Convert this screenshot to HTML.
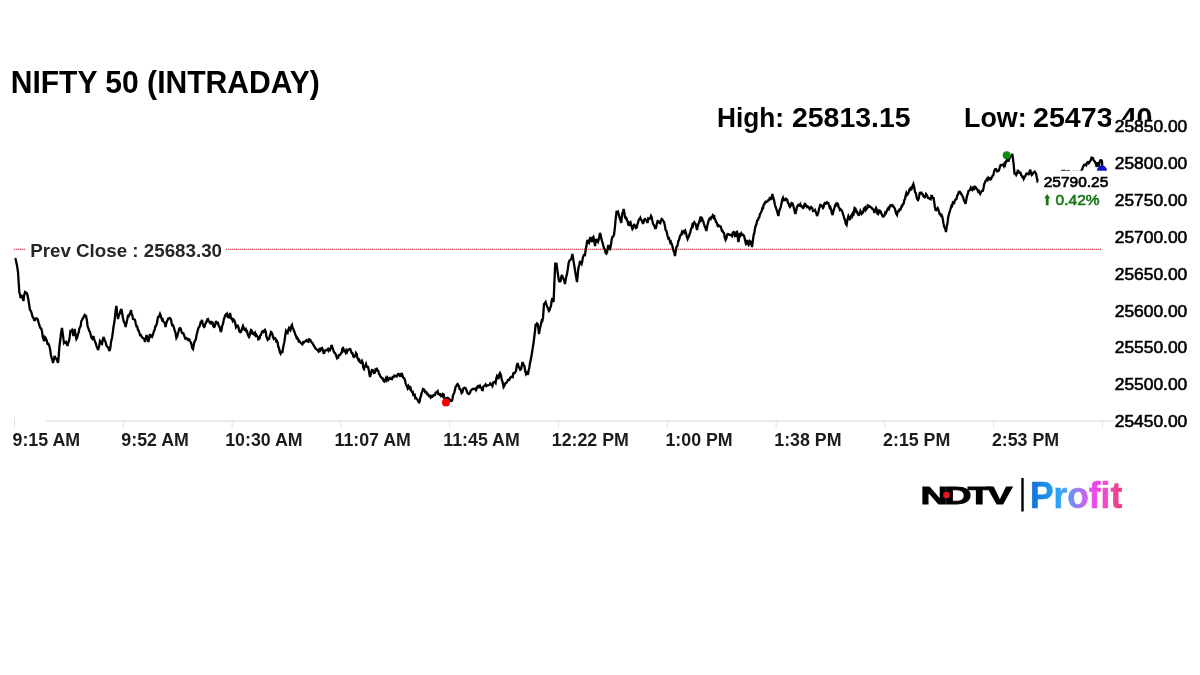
<!DOCTYPE html>
<html lang="en">
<head>
<meta charset="utf-8">
<title>NIFTY 50 (INTRADAY)</title>
<style>
html,body{margin:0;padding:0;background:#fff;}
body{width:1200px;height:675px;overflow:hidden;font-family:"Liberation Sans",sans-serif;}
svg{display:block;}
text{font-family:"Liberation Sans",sans-serif;}
.title{font-weight:bold;font-size:32px;fill:#000;}
.hl{font-weight:bold;font-size:27.3px;fill:#000;}
.xl text{font-weight:bold;font-size:17.8px;fill:#1c1c1c;text-anchor:middle;}
.yl text{font-size:17.4px;fill:#000;text-anchor:end;stroke:#000;stroke-width:0.6px;}
.axis line{stroke:#d8d8d8;stroke-width:1;}
.axis line.tk{stroke:#e2e2e2;}
.prev{font-weight:bold;font-size:18.75px;fill:#262626;}
.dl{font-size:15.5px;stroke-width:0.7px;}
.arrow{font-family:"DejaVu Sans","Liberation Sans",sans-serif;}
</style>
</head>
<body>
<svg width="1200" height="675" viewBox="0 0 1200 675">
<defs>
<linearGradient id="pg" x1="0" y1="0" x2="1" y2="0">
<stop offset="0" stop-color="#0f6fd6"/>
<stop offset="0.30" stop-color="#28a6f8"/>
<stop offset="0.44" stop-color="#6a92f2"/>
<stop offset="0.58" stop-color="#c068f0"/>
<stop offset="0.70" stop-color="#f048e8"/>
<stop offset="0.86" stop-color="#f04cc0"/>
<stop offset="1" stop-color="#f03870"/>
</linearGradient>
</defs>
<rect width="1200" height="675" fill="#fff"/>
<text class="title" x="10.7" y="92.6" textLength="309" lengthAdjust="spacingAndGlyphs">NIFTY 50 (INTRADAY)</text>
<text class="hl" x="717" y="126.8" textLength="67" lengthAdjust="spacingAndGlyphs">High:</text>
<text class="hl" x="792" y="126.8" textLength="118.5" lengthAdjust="spacingAndGlyphs">25813.15</text>
<text class="hl" x="964" y="126.8" textLength="62.7" lengthAdjust="spacingAndGlyphs">Low:</text>
<text class="hl" x="1033" y="126.8" textLength="119.5" lengthAdjust="spacingAndGlyphs">25473.40</text>
<g class="axis"><line x1="46" y1="421" x2="1115" y2="421"/><line x1="14.5" y1="417.5" x2="14.5" y2="428.5" class="tk"/><line x1="123.3" y1="421" x2="123.3" y2="428.5" class="tk"/><line x1="232.1" y1="421" x2="232.1" y2="428.5" class="tk"/><line x1="340.9" y1="421" x2="340.9" y2="428.5" class="tk"/><line x1="449.7" y1="421" x2="449.7" y2="428.5" class="tk"/><line x1="558.5" y1="421" x2="558.5" y2="428.5" class="tk"/><line x1="667.3" y1="421" x2="667.3" y2="428.5" class="tk"/><line x1="776.1" y1="421" x2="776.1" y2="428.5" class="tk"/><line x1="884.9" y1="421" x2="884.9" y2="428.5" class="tk"/><line x1="993.7" y1="421" x2="993.7" y2="428.5" class="tk"/><line x1="1102.5" y1="421" x2="1102.5" y2="428.5" class="tk"/></g>
<g class="xl"><text x="46.3" y="446">9:15 AM</text><text x="155.1" y="446">9:52 AM</text><text x="263.9" y="446">10:30 AM</text><text x="372.7" y="446">11:07 AM</text><text x="481.5" y="446">11:45 AM</text><text x="590.3" y="446">12:22 PM</text><text x="699.1" y="446">1:00 PM</text><text x="807.9" y="446">1:38 PM</text><text x="916.7" y="446">2:15 PM</text><text x="1025.5" y="446">2:53 PM</text></g>
<line x1="14" y1="249.4" x2="1102" y2="249.4" stroke="#ecc0c8" stroke-width="1"/><line x1="14" y1="249.3" x2="1102" y2="249.3" stroke="#cc2a46" stroke-width="1.1" stroke-dasharray="1 1"/>
<rect x="25" y="240" width="201" height="20" fill="#fff"/>
<text class="prev" x="30.2" y="256.8">Prev Close : 25683.30</text>
<polyline fill="none" stroke="#000" stroke-width="2.3" stroke-linejoin="miter" stroke-miterlimit="3" stroke-linecap="round" points="15.6,259.0 16.4,262.8 17.2,266.6 18.0,272.0 18.7,283.0 19.4,293.0 20.0,294.2 20.6,298.0 21.3,296.6 22.0,295.0 22.7,297.6 23.4,301.0 24.2,295.2 25.0,292.0 25.8,292.5 26.6,293.0 27.5,295.1 28.4,300.0 29.2,304.8 30.0,310.0 30.9,311.0 31.7,313.4 32.6,317.0 33.4,317.8 34.2,320.0 35.0,320.0 35.9,318.5 36.7,318.5 37.6,319.0 38.5,322.4 39.4,325.0 40.1,327.7 40.7,327.9 41.4,329.0 42.1,332.0 42.7,337.1 43.4,339.0 44.1,337.3 44.9,339.4 45.6,338.0 46.3,339.4 46.9,340.9 47.6,344.0 48.5,343.9 49.4,346.0 50.1,349.4 50.9,354.9 51.6,358.0 52.3,359.5 53.0,363.0 53.8,359.7 54.6,356.0 55.5,357.9 56.4,359.0 57.2,360.6 58.0,363.0 58.7,356.1 59.3,347.7 60.0,342.0 60.7,336.0 61.3,331.8 62.0,328.0 62.7,333.5 63.3,337.8 64.0,343.0 64.7,342.1 65.3,342.6 66.0,342.0 66.7,343.9 67.4,346.0 68.2,342.9 69.0,341.0 69.7,336.9 70.4,331.0 71.2,331.1 72.0,330.0 72.7,332.2 73.4,336.0 74.0,332.7 74.6,329.0 75.5,334.1 76.4,339.0 77.2,337.6 78.0,334.0 78.7,332.4 79.3,328.7 80.0,327.0 80.7,326.1 81.3,321.2 82.0,320.0 82.7,318.4 83.3,318.1 84.0,316.0 84.7,315.0 85.3,316.0 86.0,316.0 86.8,319.6 87.6,326.0 88.4,328.5 89.2,330.8 90.0,332.0 90.8,335.2 91.6,338.0 92.3,338.8 92.9,336.8 93.6,337.0 94.3,339.6 94.9,341.3 95.6,343.0 96.4,345.6 97.2,347.5 98.0,350.0 98.7,348.0 99.3,345.3 100.0,341.0 100.7,341.9 101.3,343.5 102.0,344.0 102.8,339.2 103.6,337.0 104.3,339.3 104.9,340.8 105.6,342.0 106.3,345.1 106.9,346.3 107.6,347.0 108.3,347.7 108.9,349.3 109.6,351.0 110.4,347.2 111.2,340.9 112.0,338.0 112.8,332.6 113.6,326.3 114.4,322.0 115.1,315.5 115.7,310.0 116.4,306.0 117.2,313.3 118.0,319.0 118.8,315.4 119.6,314.0 120.5,310.7 121.4,309.0 122.2,313.2 123.0,318.0 123.9,322.1 124.7,322.7 125.6,327.0 126.4,323.2 127.2,319.8 128.0,316.0 128.8,316.2 129.6,314.0 130.3,313.0 131.0,310.0 131.7,314.1 132.3,315.3 133.0,319.0 133.7,319.1 134.3,319.2 135.0,320.0 135.8,323.7 136.5,326.4 137.2,326.5 138.0,330.0 138.7,330.7 139.3,332.5 140.0,335.0 140.8,335.0 141.5,336.5 142.2,337.5 143.0,338.0 143.7,338.6 144.3,339.2 145.0,342.0 145.8,338.3 146.6,335.0 147.5,338.1 148.4,342.0 149.2,338.2 150.0,334.0 150.7,336.4 151.3,336.6 152.0,337.0 152.7,335.0 153.3,333.4 154.0,331.0 154.7,329.9 155.3,326.3 156.0,326.0 156.7,324.2 157.3,320.8 158.0,317.0 158.7,317.1 159.3,315.9 160.0,314.0 160.7,315.7 161.3,317.7 162.0,320.0 162.7,319.5 163.3,321.7 164.0,322.0 164.8,323.2 165.6,327.0 166.3,323.4 166.9,321.5 167.6,320.0 168.4,318.3 169.2,318.2 170.0,318.0 170.7,319.0 171.3,321.2 172.0,325.0 172.7,325.0 173.3,325.8 174.0,328.0 174.8,330.9 175.6,333.2 176.4,338.0 177.1,336.8 177.9,333.7 178.6,331.0 179.3,328.4 180.0,328.0 180.7,328.9 181.3,330.9 182.0,333.0 182.7,333.3 183.3,333.2 184.0,335.0 184.7,337.0 185.3,338.5 186.0,338.0 186.7,338.6 187.3,339.3 188.0,340.0 188.7,339.1 189.3,339.5 190.0,341.0 190.8,342.5 191.5,344.3 192.2,348.0 193.0,349.0 193.7,345.3 194.3,342.2 195.0,341.0 195.9,339.0 196.7,334.4 197.6,331.0 198.4,327.9 199.2,327.1 200.0,325.0 200.7,321.9 201.3,321.8 202.0,320.0 202.7,323.8 203.3,325.8 204.0,327.0 204.7,326.3 205.3,323.6 206.0,323.0 206.7,321.3 207.3,319.3 208.0,319.0 208.7,321.1 209.3,321.8 210.0,323.0 210.7,323.5 211.3,321.8 212.0,322.0 212.7,322.8 213.3,326.3 214.0,327.0 214.7,326.5 215.3,324.1 216.0,321.0 216.7,322.6 217.3,323.3 218.0,323.0 218.8,326.0 219.5,326.7 220.2,329.8 221.0,332.0 221.7,328.9 222.3,325.3 223.0,324.0 223.7,319.9 224.3,318.0 225.0,316.0 225.7,314.6 226.3,315.2 227.0,314.0 227.7,316.7 228.3,316.5 229.0,318.0 230.0,313.0 230.7,316.3 231.3,318.5 232.0,319.0 232.7,320.7 233.3,319.3 234.0,320.0 234.7,321.5 235.3,323.8 236.0,327.0 236.7,325.8 237.3,325.4 238.0,326.0 238.7,328.4 239.3,331.2 240.0,332.0 240.8,332.0 241.6,330.0 242.3,327.9 243.0,326.0 243.7,327.8 244.3,329.6 245.0,330.0 245.7,329.1 246.3,331.1 247.0,331.0 247.7,334.2 248.3,335.8 249.0,337.0 249.7,335.4 250.3,332.3 251.0,330.0 251.7,330.4 252.3,333.5 253.0,334.0 253.7,333.2 254.3,334.2 255.0,333.0 255.7,335.4 256.3,334.7 257.0,336.0 257.7,336.7 258.3,339.3 259.0,339.0 259.7,338.3 260.3,335.3 261.0,335.0 261.7,332.5 262.3,331.3 263.0,331.0 263.7,331.9 264.3,331.3 265.0,330.0 265.7,331.6 266.3,336.3 267.0,338.0 267.7,339.8 268.3,339.1 269.0,339.0 269.7,336.2 270.3,334.5 271.0,332.0 271.7,332.6 272.3,333.9 273.0,337.0 273.7,338.7 274.3,338.1 275.0,338.0 275.7,339.1 276.3,341.3 277.0,341.0 277.7,343.1 278.3,346.8 279.0,348.0 279.8,351.8 280.6,353.6 281.5,351.9 282.4,352.0 283.1,347.9 283.7,344.7 284.4,342.0 285.2,335.7 286.0,331.0 286.8,332.3 287.6,333.0 288.3,329.8 289.0,328.0 289.7,328.8 290.4,330.0 291.2,326.4 292.0,325.0 292.7,328.2 293.3,328.6 294.0,331.0 294.7,332.5 295.3,334.6 296.0,336.0 296.7,338.2 297.3,337.8 298.0,339.0 298.7,341.3 299.3,341.0 300.0,342.0 300.8,342.9 301.6,343.7 302.4,344.4 303.3,342.0 304.1,342.4 305.0,341.6 305.9,340.6 306.7,340.1 307.6,341.6 308.4,341.8 309.2,339.3 310.0,339.6 310.8,340.7 311.6,342.5 312.4,343.0 313.3,344.8 314.1,345.8 315.0,348.0 315.9,348.7 316.7,349.5 317.6,350.0 318.4,351.2 319.2,349.5 320.0,351.0 320.7,350.2 321.3,348.2 322.0,348.0 322.8,349.8 323.6,353.0 324.3,352.8 324.9,351.0 325.6,350.0 326.4,349.9 327.2,350.1 328.0,349.0 328.7,350.6 329.3,349.5 330.0,350.0 330.8,347.8 331.6,345.0 332.3,347.0 332.9,349.0 333.6,351.0 334.3,352.6 334.9,352.9 335.6,354.0 336.3,356.1 337.0,358.0 337.7,356.9 338.3,357.3 339.0,355.0 339.7,354.9 340.3,354.8 341.0,353.0 341.7,352.7 342.3,348.9 343.0,348.0 343.7,349.2 344.3,351.3 345.0,351.0 345.7,352.4 346.3,350.6 347.0,352.0 347.9,349.9 348.7,349.8 349.6,349.0 350.3,349.1 350.9,350.9 351.6,353.0 352.4,353.1 353.2,356.2 354.0,357.0 354.7,356.5 355.3,355.5 356.0,353.0 356.7,354.0 357.3,357.6 358.0,359.0 358.7,360.5 359.3,359.9 360.0,362.0 360.7,362.8 361.3,362.7 362.0,361.0 362.7,362.8 363.3,367.7 364.0,369.0 364.7,367.0 365.3,365.6 366.0,364.0 366.7,366.5 367.3,367.0 368.0,367.0 368.7,369.3 369.3,373.5 370.0,377.0 370.7,374.7 371.3,371.9 372.0,370.0 372.7,370.1 373.3,371.5 374.0,373.0 374.8,372.7 375.5,369.6 376.2,370.2 377.0,369.0 377.7,370.5 378.3,370.9 379.0,374.0 379.7,374.5 380.3,376.4 381.0,377.0 381.9,378.4 382.7,378.4 383.6,381.0 384.4,381.5 385.2,379.9 386.0,378.0 386.8,380.1 387.6,378.1 388.4,380.0 389.3,379.0 390.1,378.0 391.0,379.0 391.9,379.2 392.7,377.0 393.6,377.0 394.4,375.6 395.2,376.1 396.0,376.0 396.7,376.6 397.3,375.6 398.0,374.0 398.7,373.9 399.3,374.3 400.0,376.0 400.8,375.8 401.6,373.0 402.3,374.9 402.9,376.9 403.6,378.0 404.3,378.4 404.9,380.0 405.6,383.0 406.3,385.2 406.9,386.1 407.6,388.0 408.4,386.1 409.2,388.0 410.0,386.0 410.7,388.4 411.3,390.9 412.0,392.0 412.7,391.8 413.3,395.1 414.0,395.0 414.7,394.7 415.3,398.1 416.0,398.0 416.8,399.0 417.5,399.7 418.2,401.5 419.0,402.4 419.7,401.5 420.3,397.4 421.0,396.0 421.7,392.6 422.3,391.4 423.0,389.0 423.7,389.2 424.3,389.8 425.0,392.0 425.7,391.7 426.3,392.0 427.0,394.0 427.7,393.8 428.3,394.8 429.0,396.0 429.8,395.7 430.5,397.3 431.2,396.1 432.0,397.0 432.8,396.5 433.5,395.0 434.2,395.0 435.0,395.0 435.7,392.6 436.3,392.3 437.0,392.0 437.7,391.2 438.3,394.0 439.0,394.0 439.7,394.8 440.3,394.4 441.0,396.0 441.7,395.3 442.3,396.0 443.0,394.0 443.7,394.5 444.3,398.3 445.0,399.0 445.7,398.5 446.3,398.3 447.0,398.0 447.7,399.3 448.3,398.3 449.0,399.0 449.9,399.7 450.7,400.9 451.6,401.0 452.3,400.1 452.9,395.9 453.6,394.0 454.3,392.7 454.9,390.0 455.6,387.0 456.3,386.4 456.9,384.7 457.6,384.0 458.3,385.2 458.9,386.0 459.6,389.0 460.3,389.2 460.9,390.4 461.6,393.0 462.4,392.1 463.2,388.9 464.0,388.0 464.8,387.7 465.6,388.1 466.4,390.0 467.3,392.4 468.1,393.8 469.0,394.0 469.9,393.2 470.7,390.7 471.6,390.0 472.4,388.9 473.2,388.7 474.0,389.0 474.7,389.2 475.3,388.6 476.0,390.0 476.7,388.5 477.3,386.6 478.0,386.0 478.7,387.4 479.3,387.4 480.0,386.0 480.7,387.5 481.3,387.9 482.0,390.0 482.7,390.1 483.3,386.8 484.0,386.0 484.8,385.6 485.6,384.5 486.4,386.0 487.3,385.3 488.1,385.3 489.0,385.0 489.7,384.7 490.3,383.4 491.0,384.0 491.7,385.0 492.4,386.0 493.2,382.5 494.0,382.0 494.8,381.8 495.6,383.0 496.3,378.3 497.0,376.0 497.7,377.2 498.4,379.0 499.2,374.6 500.0,373.0 500.8,374.6 501.6,379.0 502.3,381.1 502.9,383.5 503.6,387.0 504.3,385.9 504.9,384.4 505.6,383.0 506.4,382.8 507.2,381.5 508.0,380.0 508.7,380.0 509.3,379.8 510.0,378.0 510.7,377.3 511.3,376.8 512.0,377.0 512.7,377.1 513.3,373.3 514.0,373.0 514.7,373.0 515.3,372.1 516.0,371.0 516.8,365.6 517.6,363.0 518.5,366.5 519.4,368.0 520.2,369.7 521.0,369.0 521.8,365.9 522.6,362.0 523.5,364.7 524.4,366.0 525.2,370.9 526.0,374.0 526.7,372.9 527.3,374.1 528.0,374.0 528.7,370.3 529.3,367.7 530.0,363.0 530.8,359.6 531.6,355.3 532.4,350.0 533.1,345.6 533.7,341.8 534.4,336.0 535.0,331.0 535.6,325.0 536.3,325.2 536.9,323.5 537.6,324.0 538.3,327.6 539.0,334.0 539.7,329.6 540.3,326.9 541.0,324.0 541.7,320.8 542.3,321.0 543.0,318.0 544.0,304.0 544.8,303.2 545.6,302.0 546.5,304.9 547.4,307.0 548.2,309.4 549.0,311.0 549.7,309.9 550.3,307.6 551.0,306.0 551.7,300.5 552.4,298.0 553.0,300.9 553.6,302.0 554.4,282.0 555.2,264.0 555.8,264.2 556.4,263.0 557.0,267.5 557.6,272.0 558.3,276.6 559.0,281.0 559.8,281.5 560.6,281.0 561.3,276.7 562.0,275.0 562.8,277.7 563.6,279.0 564.3,280.8 565.0,284.0 565.7,279.4 566.3,276.6 567.0,274.0 567.8,269.2 568.6,263.0 569.5,260.6 570.4,260.0 571.1,258.7 571.7,257.4 572.4,254.0 573.2,259.0 574.0,264.0 574.8,268.6 575.6,274.0 576.3,277.9 577.0,282.0 577.7,275.6 578.4,268.0 579.2,265.3 580.0,261.0 580.8,262.9 581.6,264.0 582.3,260.9 583.0,257.0 583.7,255.1 584.3,254.6 585.0,255.0 585.7,249.8 586.4,246.0 587.4,240.0 588.2,242.2 589.0,243.0 589.7,239.4 590.4,237.0 591.2,239.7 592.0,242.0 592.7,238.0 593.4,237.0 594.2,240.2 595.0,246.0 595.7,241.8 596.4,239.0 597.2,241.0 598.0,242.0 598.7,239.6 599.3,236.5 600.0,233.0 600.7,235.0 601.3,238.4 602.0,241.0 602.7,243.2 603.3,245.6 604.0,248.0 604.8,249.4 605.6,253.0 606.4,253.7 607.2,252.0 607.8,247.6 608.4,245.0 609.2,248.4 610.0,249.0 610.8,245.8 611.6,240.0 612.4,236.9 613.2,236.5 614.0,235.0 614.8,228.5 615.6,220.0 616.6,211.0 617.3,212.9 618.0,212.0 618.8,214.8 619.6,218.0 620.4,219.8 621.2,223.0 621.8,217.1 622.4,213.0 623.0,212.3 623.6,209.0 624.3,212.1 625.0,217.0 625.7,218.2 626.3,217.9 627.0,220.0 627.7,221.7 628.3,224.7 629.0,225.0 629.7,222.4 630.4,222.0 631.1,225.3 631.7,226.7 632.4,229.0 633.2,227.7 634.0,224.0 634.7,225.9 635.3,225.9 636.0,228.0 636.7,227.5 637.3,224.6 638.0,223.0 638.8,219.6 639.6,219.0 640.3,217.8 640.9,219.6 641.6,220.0 642.3,221.9 643.0,224.0 643.7,221.7 644.3,219.6 645.0,219.0 645.7,219.5 646.3,220.4 647.0,222.0 647.7,222.0 648.3,218.5 649.0,219.0 649.7,218.8 650.3,218.0 651.0,216.0 651.7,217.4 652.4,221.0 653.1,223.9 653.7,225.0 654.4,226.0 655.2,228.2 656.0,228.0 656.8,223.9 657.6,221.0 658.3,221.3 658.9,222.0 659.6,223.0 660.3,223.2 660.9,220.6 661.6,219.0 662.4,219.6 663.2,220.8 664.0,222.0 664.8,225.3 665.6,230.0 666.3,230.6 666.9,232.8 667.6,236.0 668.3,238.3 668.9,238.0 669.6,240.0 670.3,242.6 670.9,241.9 671.6,244.0 672.3,245.6 672.9,248.7 673.6,251.0 674.3,252.6 675.0,256.0 675.7,251.1 676.4,247.0 677.1,246.4 677.7,244.2 678.4,241.0 679.2,239.4 680.0,236.0 680.7,235.1 681.3,234.6 682.0,232.0 682.7,233.0 683.3,231.5 684.0,231.0 684.7,232.3 685.3,231.0 686.0,233.0 686.8,236.7 687.6,239.0 688.3,237.2 688.9,236.4 689.6,234.0 690.3,232.4 690.9,229.4 691.6,228.0 692.3,225.0 692.9,225.9 693.6,223.0 694.3,222.2 694.9,223.6 695.6,224.0 696.3,226.5 697.0,230.0 697.7,226.4 698.4,224.0 699.2,222.2 700.0,219.0 700.7,220.1 701.3,217.6 702.0,218.0 702.7,220.5 703.3,221.4 704.0,224.0 704.8,226.5 705.6,228.3 706.4,231.0 707.2,226.0 708.0,223.0 708.7,220.3 709.3,218.8 710.0,218.0 710.7,218.9 711.3,217.3 712.0,217.0 712.7,215.5 713.3,216.9 714.0,215.0 714.7,218.8 715.3,219.5 716.0,222.0 716.7,222.6 717.3,224.4 718.0,227.0 718.7,225.4 719.3,225.9 720.0,226.0 720.7,226.4 721.3,228.6 722.0,231.0 722.7,230.9 723.3,232.5 724.0,233.0 724.8,237.7 725.6,240.0 726.3,238.7 726.9,235.7 727.6,234.0 728.4,234.1 729.2,234.7 730.0,235.0 730.7,235.0 731.3,235.2 732.0,236.0 732.8,232.7 733.6,232.0 734.3,232.7 734.9,236.1 735.6,236.0 736.3,232.4 737.0,231.0 737.7,236.5 738.4,242.0 739.2,237.9 740.0,233.0 740.7,234.8 741.3,233.5 742.0,235.0 742.7,234.6 743.3,234.9 744.0,236.0 744.7,238.4 745.3,241.2 746.0,244.0 746.7,243.4 747.4,240.0 748.0,243.5 748.6,245.0 749.3,244.1 750.0,241.0 750.7,241.6 751.3,243.6 752.0,247.0 752.8,241.6 753.6,235.0 754.3,233.2 754.9,228.9 755.6,226.0 756.4,224.3 757.2,220.5 758.0,220.0 758.7,217.7 759.3,217.3 760.0,214.0 760.8,213.0 761.6,211.1 762.4,208.0 763.1,208.1 763.7,204.6 764.4,204.0 765.1,202.2 765.7,201.6 766.4,202.0 767.1,201.4 767.7,201.2 768.4,200.0 769.2,199.8 770.0,197.0 771.0,200.0 771.7,197.7 772.4,194.0 773.2,197.4 774.0,200.0 774.8,204.3 775.6,207.0 776.3,208.9 777.0,211.0 777.7,213.7 778.4,216.0 779.2,211.1 780.0,209.0 780.8,206.8 781.6,203.0 782.3,199.7 783.0,198.0 783.7,200.3 784.4,200.0 785.1,200.1 785.7,198.7 786.4,199.0 787.2,199.9 788.0,203.0 788.7,203.6 789.3,206.1 790.0,207.0 790.8,205.6 791.6,203.0 792.3,203.2 792.9,204.4 793.6,207.0 794.5,210.6 795.4,214.0 796.2,210.7 797.0,207.0 797.7,206.0 798.3,204.8 799.0,205.0 799.7,205.6 800.3,204.2 801.0,206.0 801.7,206.1 802.3,207.2 803.0,208.0 803.7,207.7 804.3,205.1 805.0,203.0 805.7,205.5 806.3,205.6 807.0,207.0 807.7,206.5 808.3,206.9 809.0,208.0 809.7,209.0 810.3,207.9 811.0,207.0 811.7,207.8 812.3,208.2 813.0,211.0 813.7,210.7 814.3,210.9 815.0,210.0 815.7,211.8 816.3,213.3 817.0,216.0 817.7,214.2 818.3,212.6 819.0,209.0 819.7,206.8 820.3,204.9 821.0,205.0 821.7,205.5 822.3,206.8 823.0,208.0 823.7,206.9 824.3,203.8 825.0,203.0 825.7,203.7 826.3,203.3 827.0,202.4 827.7,203.3 828.3,203.2 829.0,205.0 829.7,207.7 830.3,207.1 831.0,209.0 831.8,213.0 832.6,215.0 833.5,210.7 834.4,208.0 835.2,205.2 836.0,204.0 836.7,204.8 837.3,203.4 838.0,204.0 838.7,207.4 839.3,208.0 840.0,210.0 840.7,209.4 841.3,209.8 842.0,211.0 842.8,213.3 843.6,216.0 844.3,218.5 845.0,220.0 845.8,223.8 846.6,225.0 847.5,219.4 848.4,216.0 849.2,217.7 850.0,220.0 850.8,216.6 851.6,215.0 852.3,216.1 852.9,213.3 853.6,214.0 854.6,208.0 855.5,208.7 856.4,212.0 857.1,211.7 857.7,213.7 858.4,215.0 859.1,214.9 859.7,213.5 860.4,211.0 861.1,212.4 861.7,213.8 862.4,213.0 863.1,212.6 863.7,209.2 864.4,208.0 865.1,207.4 865.7,210.0 866.4,209.0 867.1,208.6 867.7,205.3 868.4,205.6 869.1,206.6 869.7,206.2 870.4,207.0 871.1,207.3 871.7,207.8 872.4,209.0 873.1,209.3 873.7,210.2 874.4,213.0 875.2,209.8 876.0,208.0 876.7,209.6 877.3,213.4 878.0,214.0 878.7,211.9 879.3,213.4 880.0,211.0 880.7,211.5 881.3,213.2 882.0,215.0 882.7,216.3 883.3,216.6 884.0,216.0 884.7,214.8 885.3,212.6 886.0,213.0 886.8,210.9 887.6,209.0 888.3,208.0 888.9,208.9 889.6,207.0 890.3,205.4 890.9,205.3 891.6,205.0 892.3,206.9 892.9,204.9 893.6,207.0 894.3,207.7 895.0,209.0 895.7,211.9 896.3,213.8 897.0,215.0 897.7,212.3 898.3,210.9 899.0,211.0 899.7,208.7 900.3,210.3 901.0,208.0 901.7,205.9 902.3,206.1 903.0,204.0 903.7,203.5 904.3,200.2 905.0,199.0 905.7,195.3 906.4,193.0 907.2,194.9 908.0,194.0 908.8,191.9 909.6,189.0 910.3,188.3 910.9,189.6 911.6,189.0 912.5,185.9 913.4,184.0 914.2,187.3 915.0,192.0 915.8,193.0 916.6,197.0 917.3,199.3 918.0,200.0 918.7,198.6 919.3,195.1 920.0,192.0 920.7,194.0 921.3,191.9 922.0,194.0 922.7,194.2 923.3,195.9 924.0,197.0 924.7,197.4 925.3,196.4 926.0,194.0 926.7,195.0 927.3,195.9 928.0,198.0 928.7,198.1 929.3,198.6 930.0,199.0 930.7,199.3 931.3,196.0 932.0,196.0 932.8,197.9 933.6,198.0 934.3,202.7 934.9,207.0 935.6,210.0 936.3,210.2 936.9,209.0 937.6,208.0 938.3,209.5 938.9,211.5 939.6,214.0 940.3,213.9 940.9,215.5 941.6,215.0 942.3,216.7 942.9,220.1 943.6,224.0 944.4,227.4 945.2,228.6 946.0,232.0 946.8,226.2 947.5,223.0 948.2,217.1 949.0,214.0 949.9,211.2 950.8,208.0 951.5,205.7 952.1,206.0 952.8,202.8 953.4,203.4 954.1,203.2 954.7,201.2 955.6,199.4 956.5,199.0 957.2,195.5 958.0,194.5 958.9,191.9 959.8,191.8 960.5,192.7 961.1,194.2 961.8,194.5 962.4,196.1 963.1,197.2 963.7,199.8 964.6,201.6 965.5,203.8 966.2,200.3 967.0,196.0 967.8,193.9 968.5,190.8 969.3,190.5 970.0,189.8 970.8,187.8 971.5,189.4 972.2,190.0 973.1,187.8 973.9,188.8 974.8,186.7 975.5,186.9 976.1,188.6 976.8,188.8 977.5,190.0 978.2,191.7 978.9,191.0 979.5,192.1 980.2,193.8 981.1,192.0 981.9,190.8 982.8,190.8 983.5,188.6 984.2,184.0 984.9,183.0 985.5,180.9 986.2,180.2 986.9,179.1 987.6,180.0 988.3,177.7 988.9,178.3 989.6,178.1 990.2,179.5 991.0,179.2 991.7,177.5 992.5,175.8 993.2,175.4 994.0,172.0 994.9,169.3 995.8,169.0 996.5,169.7 997.1,171.4 997.8,171.2 998.4,171.0 999.1,170.0 999.7,167.5 1000.6,165.0 1001.5,165.2 1002.3,164.8 1003.0,164.6 1003.8,166.0 1004.4,163.8 1005.1,164.9 1005.7,162.2 1006.6,160.6 1007.5,158.5 1008.1,160.9 1008.7,160.8 1009.6,158.1 1010.5,156.2 1011.4,156.2 1012.3,154.0 1012.9,158.3 1013.5,163.0 1014.5,173.5 1015.4,173.5 1016.2,175.0 1017.1,173.2 1018.0,169.8 1018.9,172.6 1019.8,172.8 1020.5,172.6 1021.1,175.1 1021.8,175.8 1022.4,177.2 1023.1,177.0 1023.7,178.8 1024.6,176.9 1025.5,175.8 1026.4,173.6 1027.3,173.5 1028.0,173.4 1028.8,175.0 1029.5,171.7 1030.3,169.8 1031.0,172.7 1031.8,175.0 1032.5,174.4 1033.3,172.8 1034.0,172.1 1034.7,171.7 1035.3,172.8 1036.0,173.5 1036.8,177.8 1037.5,181.0 1038.2,180.2 1039.0,179.5 1039.8,178.9 1040.5,178.4 1041.2,177.8 1042.0,177.2 1042.8,176.7 1043.5,176.1 1044.2,175.6 1045.0,175.0 1045.8,174.9 1046.5,174.8 1047.2,174.6 1048.0,174.5 1048.8,174.4 1049.5,174.2 1050.2,174.1 1051.0,174.0 1051.8,173.9 1052.5,173.8 1053.2,173.6 1054.0,173.5 1054.8,173.4 1055.5,173.3 1056.2,173.2 1057.0,173.2 1057.8,173.1 1058.5,173.0 1059.2,172.9 1060.0,172.8 1060.7,172.2 1061.5,171.5 1062.2,170.9 1063.1,170.9 1063.9,170.9 1064.8,170.9 1065.4,171.9 1066.0,172.8 1066.8,171.9 1067.5,171.1 1068.2,171.1 1069.0,171.1 1069.6,171.9 1070.2,172.8 1071.0,172.5 1071.8,172.2 1072.7,172.0 1073.5,171.7 1074.2,172.2 1075.0,172.8 1075.8,172.2 1076.5,171.7 1077.2,172.2 1078.0,172.8 1078.8,172.4 1079.5,172.0 1080.2,171.6 1081.0,171.2 1081.8,170.2 1082.5,168.5 1083.2,166.8 1084.0,164.7 1084.8,164.5 1085.5,164.3 1086.2,165.2 1087.0,162.8 1087.8,162.2 1088.5,163.3 1089.2,162.7 1090.0,161.5 1090.8,160.0 1091.5,157.6 1092.2,157.8 1093.0,158.1 1093.8,160.8 1094.5,161.2 1095.2,162.2 1096.0,164.7 1096.8,166.8 1097.8,162.2 1098.4,164.1 1099.0,165.2 1099.8,161.5 1100.5,160.2 1101.3,160.3 1102.0,161.2 1102.3,167.5"/>
<circle cx="446" cy="402.4" r="4" fill="#f00000"/>
<circle cx="1006.7" cy="155.2" r="4" fill="#128a12"/>
<circle cx="1102" cy="170.5" r="5" fill="#1010c8"/>
<rect x="1038.5" y="170.7" width="72" height="38" fill="#fff"/>
<text class="dl" x="1043.7" y="186.9" fill="#000" stroke="#000">25790.25</text>
<text class="dl arrow" transform="translate(1043.3 204.9) scale(0.62 0.9)" x="0" y="0" fill="#147814" stroke="#147814">&#11014;</text><text class="dl" x="1055.6" y="204.9" fill="#147814" stroke="#147814" style="stroke-width:0.6px">0.42%</text>
<rect x="1111" y="120" width="84" height="15" fill="#fff"/>
<g class="yl"><text x="1187.3" y="132.4">25850.00</text><text x="1187.3" y="169.2">25800.00</text><text x="1187.3" y="206.0">25750.00</text><text x="1187.3" y="242.9">25700.00</text><text x="1187.3" y="279.7">25650.00</text><text x="1187.3" y="316.5">25600.00</text><text x="1187.3" y="353.3">25550.00</text><text x="1187.3" y="390.1">25500.00</text><text x="1187.3" y="427.0">25450.00</text></g>
<g>
<text transform="translate(920.6 503.5) scale(1.535 1)" x="0" y="0" style="font-weight:bold;font-size:24.6px;fill:#000;stroke:#000;stroke-width:0.9px;letter-spacing:-2.4px">NDTV</text>
<circle cx="946.5" cy="495" r="3.3" fill="#e8141e"/>
<rect x="1021.3" y="478" width="2.4" height="33.5" fill="#000"/>
<text transform="translate(1030 507.8) scale(0.975 1)" x="0" y="0" style="font-weight:bold;font-size:36.2px;stroke-width:0.6px" fill="url(#pg)" stroke="url(#pg)">Profit</text>
</g>
</svg>
</body>
</html>
